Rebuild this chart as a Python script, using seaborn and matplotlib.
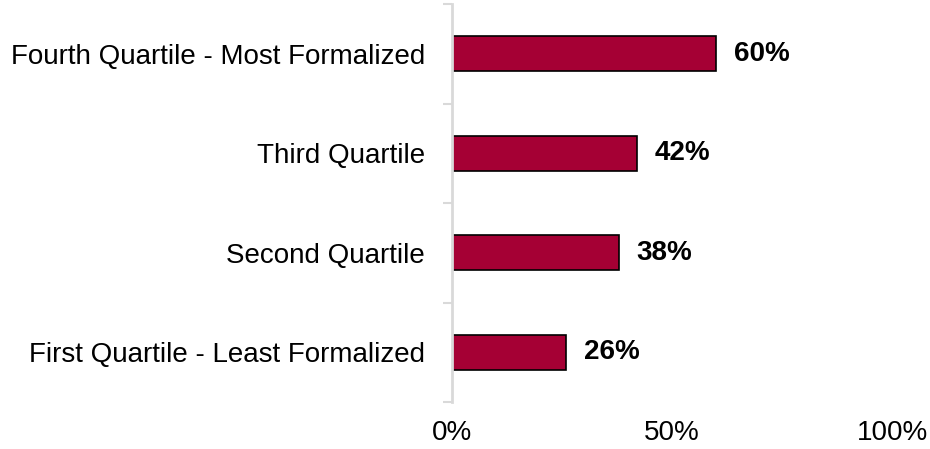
import matplotlib
matplotlib.use("Agg")
import matplotlib.pyplot as plt
import seaborn as sns
import pandas as pd
import numpy as np

categories = [
    "Fourth Quartile - Most Formalized",
    "Third Quartile",
    "Second Quartile",
    "First Quartile - Least Formalized",
]
values = [60, 42, 38, 26]
tick_values = [0, 50, 100]
tick_labels = ["0%", "50%", "100%"]

sns.set_theme(style="white")
plt.rcParams["font.family"] = ["Liberation Sans", "DejaVu Sans"]

df = pd.DataFrame({"category": categories, "value": values})

fig = plt.figure(figsize=(9.3, 4.49), dpi=100)
ax = fig.add_axes([452 / 930, 1 - 402 / 449, (892 - 452) / 930, (402 - 4) / 449])

sns.barplot(data=df, x="value", y="category", orient="h", ax=ax,
            color="#A50034", saturation=1, width=0.35,
            edgecolor="black", linewidth=1.2)

for i, v in enumerate(values):
    ax.text(v + 4, i, f"{v}%", va="center", ha="left",
            fontsize=20, fontweight="bold", color="black")

ax.set_xlim(0, 100)
ax.set_ylim(3.5, -0.5)
ax.set_xticks(tick_values)
ax.set_xticklabels(tick_labels, fontsize=20, color="black")
ax.tick_params(axis="x", length=0, pad=13)
ax.tick_params(axis="y", which="major", length=0, pad=19.5, labelsize=20,
               labelcolor="black")
ax.set_yticks(np.arange(-0.5, 4, 1), minor=True)
ax.tick_params(axis="y", which="minor", left=True, length=6.5, width=1.5,
               color="#D9D9D9")
ax.set_xlabel("")
ax.set_ylabel("")

for side in ["top", "right", "bottom"]:
    ax.spines[side].set_visible(False)
ax.spines["left"].set_color("#D9D9D9")
ax.spines["left"].set_linewidth(2)

fig.savefig("out.png", dpi=100)
